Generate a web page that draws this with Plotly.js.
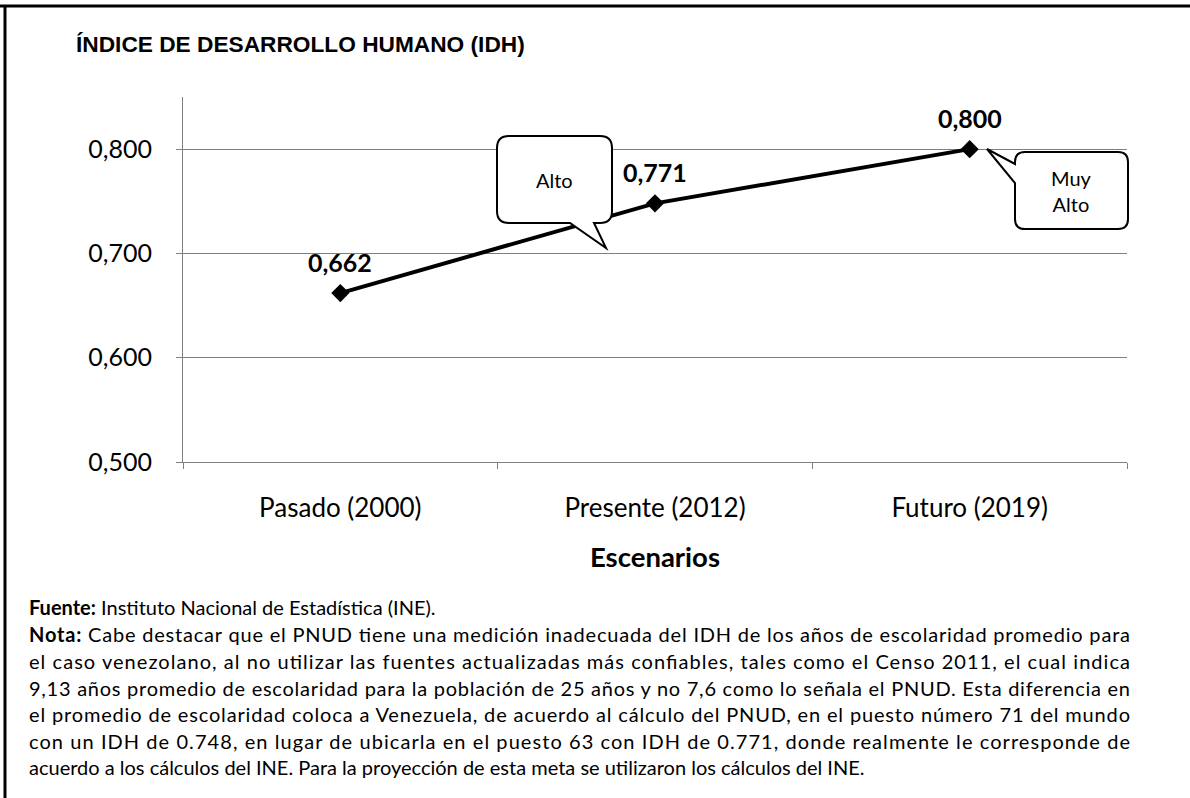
<!DOCTYPE html>
<html>
<head>
<meta charset="utf-8">
<script src="https://cdn.plot.ly/plotly-3.0.1.min.js"></script>
<style>
  body { margin: 0; background: #fff; }
  #chart { width: 1190px; height: 798px; }
</style>
</head>
<body>
<div id="chart"></div>
<script>
// Data
const escenarios = ['Pasado (2000)', 'Presente (2012)', 'Futuro (2019)'];
const idhValues = [0.662, 0.748, 0.800];
const idhLabels = ['0,662', '0,771', '0,800'];
const yTickValues = [0.5, 0.6, 0.7, 0.8];

const notesLines = [
  '<b>Fuente:</b> Instituto Nacional de Estadística (INE).',
  '<b>Nota:</b> Cabe destacar que el PNUD tiene una medición inadecuada del IDH de los años de escolaridad promedio para',
  'el caso venezolano, al no utilizar las fuentes actualizadas más confiables, tales como el Censo 2011, el cual indica',
  '9,13 años promedio de escolaridad para la población de 25 años y no 7,6 como lo señala el PNUD. Esta diferencia en',
  'el promedio de escolaridad coloca a Venezuela, de acuerdo al cálculo del PNUD, en el puesto número 71 del mundo',
  'con un IDH de 0.748, en lugar de ubicarla en el puesto 63 con IDH de 0.771, donde realmente le corresponde de',
  'acuerdo a los cálculos del INE. Para la proyección de esta meta se utilizaron los cálculos del INE.'
];
// which note lines are justified to the full width in the original
const notesJustified = [false, true, true, true, true, true, false];

const FONT = 'Lato, "Open Sans", sans-serif';

// plot area in page pixels: x 183..1127, y 97..462
function px(x) { return (x - 183) / 944; }
function py(y) { return (462 - y) / 365; }

// rounded callout box with a triangular tail, built in pixels then mapped to paper
function callout(l, t, r, b, rad, tail) {
  const P = (x, y) => px(x).toFixed(5) + ',' + py(y).toFixed(5);
  let d = 'M' + P(l + rad, t) + ' L' + P(r - rad, t) + ' Q' + P(r, t) + ' ' + P(r, t + rad) +
          ' L' + P(r, b - rad) + ' Q' + P(r, b) + ' ' + P(r - rad, b);
  if (tail.side === 'bottom') {
    d += ' L' + P(tail.a, b) + ' L' + P(tail.tx, tail.ty) + ' L' + P(tail.c, b);
  }
  d += ' L' + P(l + rad, b) + ' Q' + P(l, b) + ' ' + P(l, b - rad);
  if (tail.side === 'left') {
    d += ' L' + P(l, tail.a) + ' L' + P(tail.tx, tail.ty) + ' L' + P(l, tail.c);
  }
  d += ' L' + P(l, t + rad) + ' Q' + P(l, t) + ' ' + P(l + rad, t) + ' Z';
  return {
    type: 'path', xref: 'paper', yref: 'paper', path: d, layer: 'above',
    fillcolor: '#ffffff', line: {color: '#000000', width: 2}
  };
}

const trace = {
  x: escenarios,
  y: idhValues,
  type: 'scatter',
  mode: 'lines+markers',
  line: {color: '#000000', width: 4},
  marker: {symbol: 'diamond', size: 14, color: '#000000'},
  hoverinfo: 'skip',
  cliponaxis: false
};

const annotations = [];

// data labels above each point
escenarios.forEach((cat, i) => {
  annotations.push({
    x: cat, y: idhValues[i], xref: 'x', yref: 'y',
    text: '<b>' + idhLabels[i] + '</b>', showarrow: false,
    xanchor: 'center', yanchor: 'middle',
    yshift: 31, font: {family: FONT, size: 25, color: '#000000'}
  });
});

// callout texts
annotations.push({
  xref: 'paper', yref: 'paper', x: px(554), y: py(180),
  xanchor: 'center', yanchor: 'middle',
  text: 'Alto', showarrow: false,
  font: {family: FONT, size: 20, color: '#000000'}
});
annotations.push({
  xref: 'paper', yref: 'paper', x: px(1071), y: py(191),
  xanchor: 'center', yanchor: 'middle',
  text: 'Muy<br>Alto', showarrow: false,
  font: {family: FONT, size: 20, color: '#000000'}
});

// source and note lines under the chart
const notesStart = annotations.length;
const noteY = [607, 634, 661, 688, 714, 741, 767];
notesLines.forEach((line, i) => {
  annotations.push({
    xref: 'paper', yref: 'paper', x: px(27), y: py(noteY[i]),
    xanchor: 'left', yanchor: 'middle', align: 'left',
    text: line, showarrow: false,
    font: {family: FONT, size: 20, color: '#000000'}
  });
});

const shapes = [
  // outer frame: top and left edges
  {type: 'line', xref: 'paper', yref: 'paper', x0: px(0), x1: px(1190), y0: py(6), y1: py(6),
   line: {color: '#000000', width: 3}},
  {type: 'line', xref: 'paper', yref: 'paper', x0: px(5), x1: px(5), y0: py(5), y1: py(798),
   line: {color: '#000000', width: 3}},
  callout(497, 136, 612, 223, 12, {side: 'bottom', a: 594, tx: 606, ty: 248, c: 570}),
  callout(1015, 152, 1128, 229, 10, {side: 'left', a: 183, tx: 987, ty: 149, c: 164})
];

const layout = {
  width: 1190,
  height: 798,
  paper_bgcolor: '#ffffff',
  plot_bgcolor: '#ffffff',
  margin: {l: 183, r: 63, t: 97, b: 336},
  showlegend: false,
  title: {
    text: '<b>ÍNDICE DE DESARROLLO HUMANO (IDH)</b>',
    font: {family: '"Liberation Sans", Arial, sans-serif', size: 22.7, color: '#000000'},
    xref: 'container', yref: 'container',
    x: 76 / 1190, xanchor: 'left',
    y: 1 - 44 / 798, yanchor: 'middle'
  },
  xaxis: {
    type: 'category',
    range: [-0.5, 2.5],
    showgrid: false,
    zeroline: false,
    showline: true,
    linecolor: '#808080',
    linewidth: 1,
    ticks: 'outside',
    tickson: 'boundaries',
    ticklen: 6,
    tickcolor: '#808080',
    ticklabelstandoff: 23,
    tickfont: {family: FONT, size: 26, color: '#000000'},
    title: {
      text: '<b>Escenarios</b>',
      standoff: 25,
      font: {family: FONT, size: 27.5, color: '#000000'}
    }
  },
  yaxis: {
    range: [0.5, 0.85],
    tickvals: yTickValues,
    tickformat: '.3f',
    showgrid: true,
    gridcolor: '#7f7f7f',
    gridwidth: 1,
    zeroline: false,
    showline: true,
    linecolor: '#808080',
    linewidth: 1,
    ticks: 'outside',
    ticklen: 6,
    tickcolor: '#808080',
    ticklabelstandoff: 19,
    tickfont: {family: FONT, size: 25, color: '#000000'}
  },
  separators: ',.',
  annotations: annotations,
  shapes: shapes
};

Plotly.newPlot('chart', [trace], layout, {displayModeBar: false, staticPlot: true}).then(gd => {
  // stretch the justified note lines to the full text width (x 27..1128)
  notesJustified.forEach((just, i) => {
    if (!just) return;
    const t = gd.querySelector('g.annotation[data-index="' + (notesStart + i) + '"] text.annotation-text');
    if (!t) return;
    const w = t.getComputedTextLength();
    if (w < 1101) {
      t.setAttribute('textLength', 1101);
      t.setAttribute('lengthAdjust', 'spacing');
    }
  });
});
</script>
</body>
</html>
